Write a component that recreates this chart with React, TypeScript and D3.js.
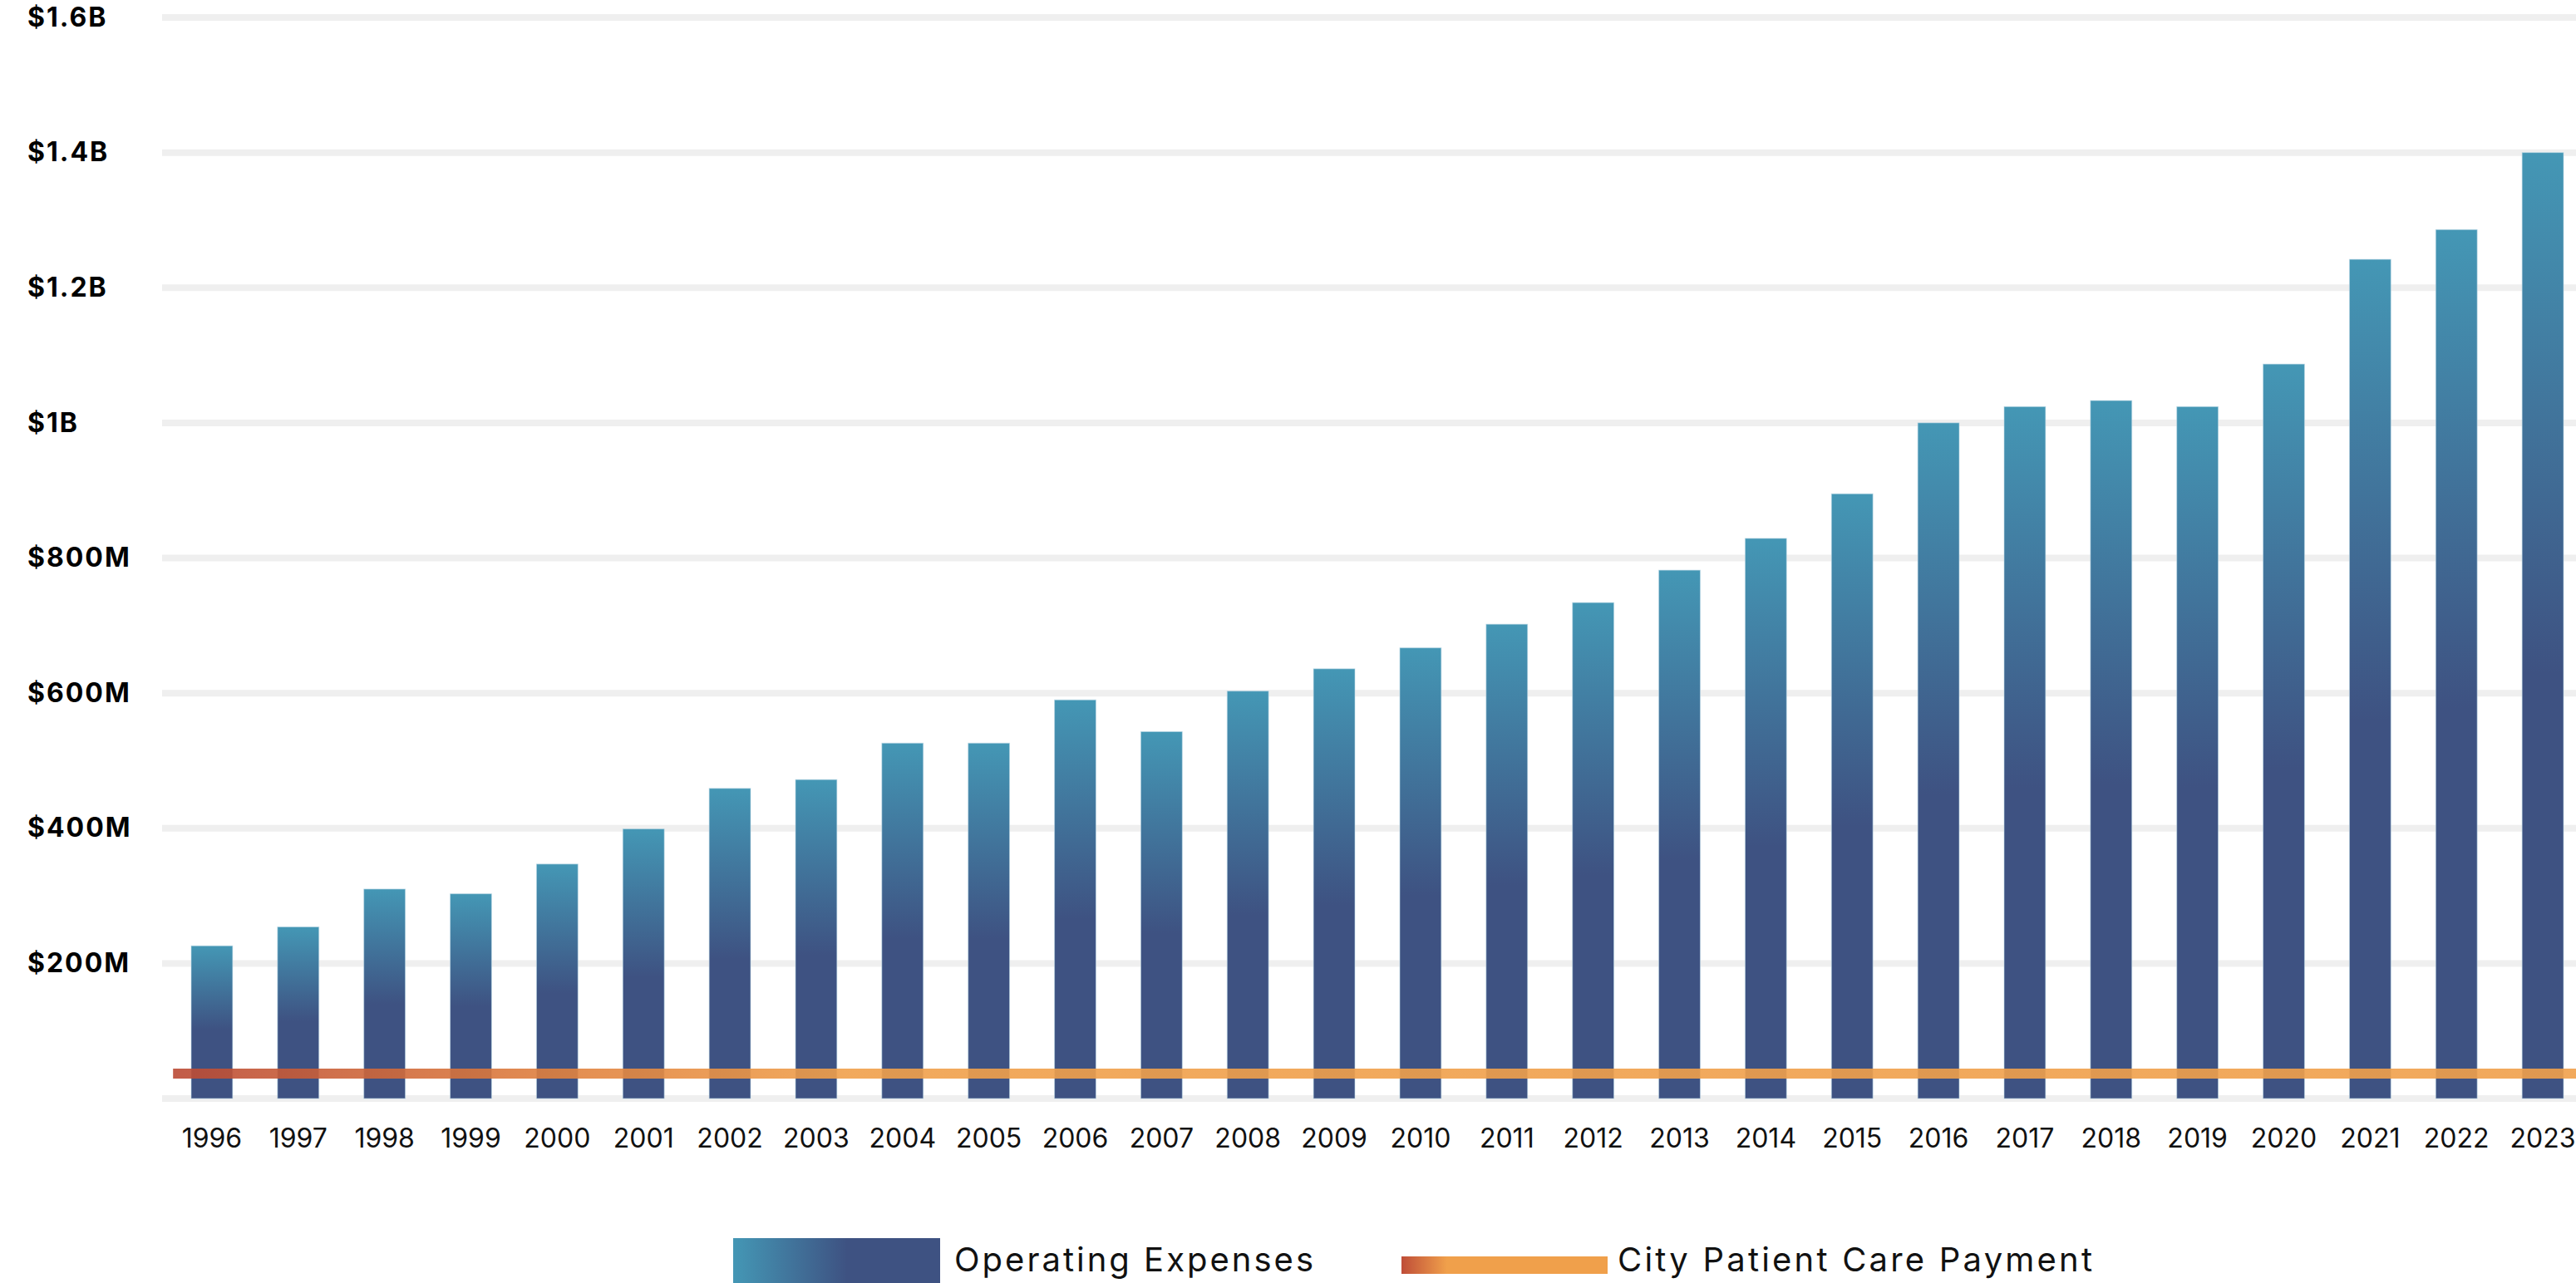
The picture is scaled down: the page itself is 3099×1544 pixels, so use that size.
import { useMemo } from 'react';
import * as d3 from 'd3';

// Annual figures, $ millions
const years = [
  '1996', '1997', '1998', '1999', '2000', '2001', '2002', '2003', '2004', '2005',
  '2006', '2007', '2008', '2009', '2010', '2011', '2012', '2013', '2014', '2015',
  '2016', '2017', '2018', '2019', '2020', '2021', '2022', '2023',
];
const operatingExpenses = [
  226, 254, 310, 303, 347, 399, 459, 472, 526, 526,
  590, 543, 603, 636, 667, 702, 734, 782, 829, 895,
  1000, 1024, 1033, 1024, 1087, 1242, 1286, 1400,
];
const cityPatientCarePayment = [
  37, 37, 37, 37, 37, 37, 37, 37, 37, 37,
  37, 37, 37, 37, 37, 37, 37, 37, 37, 37,
  37, 37, 37, 37, 37, 37, 37, 37,
];
const gridValues = [0, 200, 400, 600, 800, 1000, 1200, 1400, 1600];
const tickValues = [200, 400, 600, 800, 1000, 1200, 1400, 1600];
const tickLabels = ['$200M', '$400M', '$600M', '$800M', '$1B', '$1.2B', '$1.4B', '$1.6B'];

const W = 3099;
const H = 1544;
const FONT = 'Inter, "Noto Sans", sans-serif';

export default function App() {
  const x = useMemo(
    () => d3.scaleBand<string>().domain(years).range([203, 3111]).paddingInner(0.52).paddingOuter(0.26),
    [],
  );
  const y = useMemo(() => d3.scaleLinear().domain([0, 1600]).range([1322, 21]), []);

  const linePts = useMemo(() => {
    const c = (i: number) => x(years[i])! + x.bandwidth() / 2;
    const ext = x.step() * 0.45;
    const pts: [number, number][] = cityPatientCarePayment.map((v, i) => [c(i), y(v)]);
    pts.unshift([c(0) - ext, y(cityPatientCarePayment[0])]);
    pts.push([c(years.length - 1) + ext, y(cityPatientCarePayment[years.length - 1])]);
    return d3.line()(pts)!;
  }, [x, y]);

  return (
    <>
      <style>{'body{margin:0;background:#fff}'}</style>
      <svg width={W} height={H} style={{ display: 'block' }} fontFamily={FONT}>
        <defs>
          <linearGradient id="barGrad" x1="0" y1="0" x2="0" y2="1">
            <stop offset="0" stopColor="#4497b5" />
            <stop offset="0.55" stopColor="#3e5282" />
            <stop offset="1" stopColor="#3e5282" />
          </linearGradient>
          <linearGradient id="lineGrad" gradientUnits="userSpaceOnUse" x1="208" y1="0" x2="3099" y2="0">
            <stop offset="0" stopColor="#bb4a35" />
            <stop offset="0.16" stopColor="#e0813f" />
            <stop offset="0.28" stopColor="#f0a04b" />
            <stop offset="1" stopColor="#f0a04b" />
          </linearGradient>
          <linearGradient id="legBar" x1="0" y1="0" x2="1" y2="0">
            <stop offset="0" stopColor="#4497b5" />
            <stop offset="0.55" stopColor="#3e5282" />
            <stop offset="1" stopColor="#3e5282" />
          </linearGradient>
          <linearGradient id="legLine" x1="0" y1="0" x2="1" y2="0">
            <stop offset="0" stopColor="#bf4d38" />
            <stop offset="0.22" stopColor="#f0a04b" />
            <stop offset="1" stopColor="#f0a04b" />
          </linearGradient>
        </defs>

        {/* gridlines */}
        {gridValues.map((v) => (
          <line key={v} x1={195} x2={W} y1={y(v)} y2={y(v)} stroke="#efefef" strokeWidth={8} />
        ))}

        {/* y labels */}
        {tickValues.map((v, i) => (
          <text
            key={v}
            x={33}
            y={y(v) + 2}
            dominantBaseline="middle"
            fontSize={32}
            fontWeight={700}
            letterSpacing={2}
            fill="#000"
          >
            {tickLabels[i]}
          </text>
        ))}

        {/* bars */}
        {years.map((yr, i) => (
          <rect
            key={yr}
            x={x(yr)}
            y={y(operatingExpenses[i])}
            width={x.bandwidth()}
            height={y(0) - y(operatingExpenses[i])}
            fill="url(#barGrad)"
            stroke="#bcd8e6"
            strokeOpacity={0.6}
            strokeWidth={1}
          />
        ))}

        {/* city payment line */}
        <path d={linePts} fill="none" stroke="url(#lineGrad)" strokeWidth={12} strokeOpacity={0.9} />

        {/* x labels */}
        {years.map((yr) => (
          <text
            key={yr}
            x={x(yr)! + x.bandwidth() / 2}
            y={1372}
            textAnchor="middle"
            dominantBaseline="middle"
            fontSize={32}
            fill="#111"
          >
            {yr}
          </text>
        ))}

        {/* legend */}
        <rect x={882} y={1490} width={249} height={60} fill="url(#legBar)" />
        <text x={1148} y={1530} fontSize={40} fill="#111" textLength={432} lengthAdjust="spacing">
          Operating Expenses
        </text>
        <rect x={1686} y={1512} width={248} height={21} fill="url(#legLine)" />
        <text x={1946} y={1530} fontSize={40} fill="#111" textLength={571} lengthAdjust="spacing">
          City Patient Care Payment
        </text>
      </svg>
    </>
  );
}
